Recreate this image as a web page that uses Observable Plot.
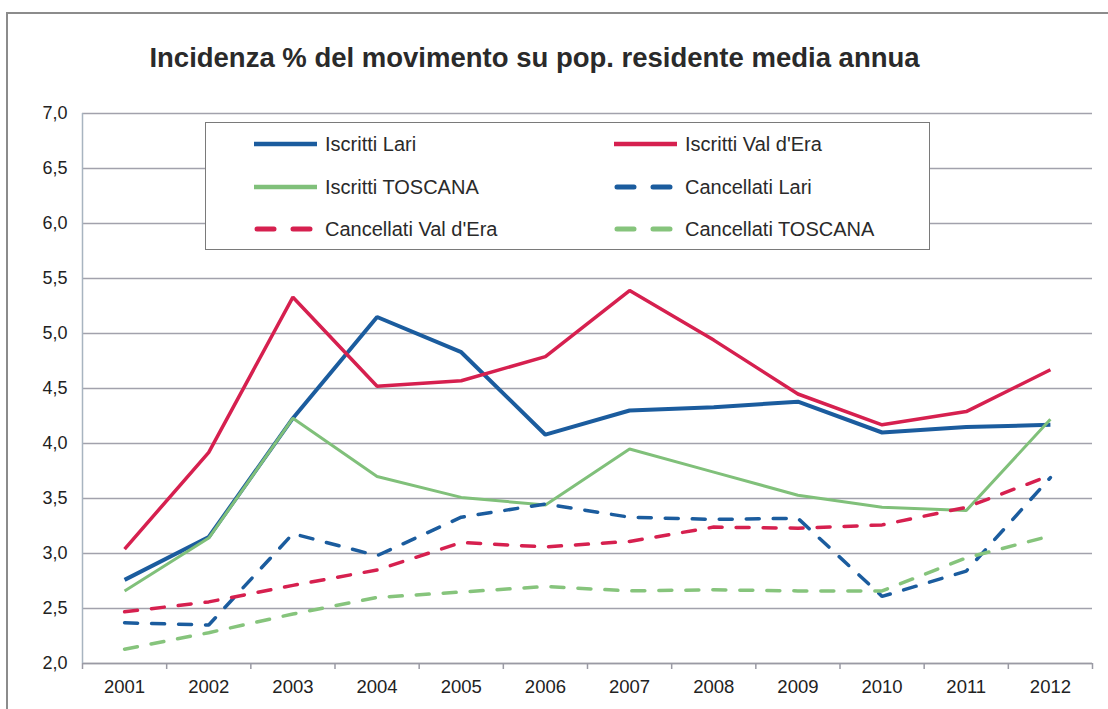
<!DOCTYPE html>
<html><head><meta charset="utf-8">
<script src="https://cdn.jsdelivr.net/npm/d3@7"></script>
<script src="https://cdn.jsdelivr.net/npm/@observablehq/plot@0.6"></script>
<style>
body{margin:0;background:#fff;font-family:"Liberation Sans",Arial,sans-serif;}
#wrap{position:relative;width:1108px;height:709px;overflow:hidden;background:#fff;}
#frame{position:absolute;left:6px;top:12px;width:1200px;height:800px;border-left:2px solid #8c8c8c;border-top:2px solid #8c8c8c;}
#title{position:relative;height:90px;box-sizing:border-box;padding-top:42px;text-align:center;width:1069px;font-weight:bold;font-size:27.5px;color:#2a2a2a;}
#chart{position:relative;}
#legend{position:absolute;left:205px;top:122px;width:725px;height:128px;border:1.5px solid #7a7a7a;background:#fff;box-sizing:border-box;}
.item{position:absolute;display:flex;align-items:center;font-size:20px;color:#2a2a2a;white-space:nowrap;}
.item svg{margin-right:8px;}
</style></head>
<body>
<div id="wrap">
<div id="frame"></div>
<div id="title">Incidenza % del movimento su pop. residente media annua</div>
<div id="chart"></div>
<div id="legend"></div>
</div>
<script>
const years = [2001,2002,2003,2004,2005,2006,2007,2008,2009,2010,2011,2012];
const yTicks = [2,2.5,3,3.5,4,4.5,5,5.5,6,6.5,7];
const iscrittiLari      = [2.76,3.15,4.23,5.15,4.83,4.08,4.30,4.33,4.38,4.10,4.15,4.17];
const iscrittiValdera   = [3.04,3.92,5.33,4.52,4.57,4.79,5.39,4.94,4.45,4.17,4.29,4.67];
const iscrittiToscana   = [2.66,3.14,4.23,3.70,3.51,3.44,3.95,3.74,3.53,3.42,3.39,4.22];
const cancellatiLari    = [2.37,2.35,3.18,2.98,3.33,3.45,3.33,3.31,3.32,2.61,2.84,3.69];
const cancellatiValdera = [2.47,2.56,2.71,2.85,3.10,3.06,3.11,3.24,3.23,3.26,3.42,3.71];
const cancellatiToscana = [2.13,2.28,2.45,2.60,2.65,2.70,2.66,2.67,2.66,2.66,2.96,3.16];
const seriesNames = ["Iscritti Lari","Iscritti Val d'Era","Iscritti TOSCANA","Cancellati Lari","Cancellati Val d'Era","Cancellati TOSCANA"];
const seriesValues = [iscrittiLari,iscrittiValdera,iscrittiToscana,cancellatiLari,cancellatiValdera,cancellatiToscana];
const seriesColors = ["#1b5c9e","#d6204f","#80c07a","#1b5c9e","#d6204f","#86c47c"];
const seriesDash = [null,null,null,"13,14","13,14","13,14"];
const seriesWidth = [4,3.5,3,3.5,3.5,3.5];

const boundaries = years.concat([years[years.length-1]+1]).map(d => d - 0.5);
const lineMarks = seriesValues.map((vals, k) =>
  Plot.line(years.map((yr,i) => ({year: yr, v: vals[i]})), {
    x: "year", y: "v", stroke: seriesColors[k], strokeWidth: seriesWidth[k],
    strokeDasharray: seriesDash[k], strokeLinecap: seriesDash[k] ? "round" : "butt", strokeLinejoin: "miter"
  })
);

const chart = Plot.plot({
  width: 1108, height: 619,
  marginTop: 23, marginBottom: 46, marginLeft: 82, marginRight: 16,
  x: {type: "linear", domain: [boundaries[0], boundaries[boundaries.length-1]], label: null},
  y: {domain: [2, 7], label: null},
  style: {fontFamily: '"Liberation Sans", Arial, sans-serif', fontSize: "18px", color: "#222", background: "transparent", overflow: "visible"},
  marks: [
    Plot.gridY(yTicks, {stroke: "#a2a2ac", strokeOpacity: 1, strokeWidth: 1.5}),
    Plot.ruleY([yTicks[0]], {stroke: "#9a9aa4", strokeWidth: 1.5}),
    Plot.ruleX([boundaries[0]], {stroke: "#a8b4c0", strokeWidth: 1.5}),
    Plot.axisY(yTicks, {tickSize: 0, tickPadding: 15, tickFormat: d => d.toFixed(1).replace(".", ","), fontSize: 18, label: null}),
    Plot.axisX(years, {tickSize: 0, tickPadding: 16, tickFormat: d => String(d), fontSize: 18.5, label: null}),
    Plot.axisX(boundaries, {tickSize: 6, tickFormat: () => "", stroke: "#9a9aa4", strokeWidth: 1.5, label: null}),
    ...lineMarks
  ]
});
document.getElementById("chart").appendChild(chart);

// legend
const legend = document.getElementById("legend");
const pos = [[47,21],[407,21],[47,64],[407,64],[47,106],[407,106]];
seriesNames.forEach((name, k) => {
  const div = document.createElement("div");
  div.className = "item";
  div.style.left = pos[k][0] + "px";
  div.style.top = (pos[k][1] - 13) + "px";
  const dash = seriesDash[k] ? 'stroke-dasharray="17,19" stroke-linecap="round"' : '';
  div.innerHTML = `<svg width="64" height="26"><line x1="${seriesDash[k]?4:1}" y1="13" x2="64" y2="13" stroke="${seriesColors[k]}" stroke-width="${seriesDash[k]?5:4.5}" ${dash}/></svg><span>${name}</span>`;
  legend.appendChild(div);
});
</script>
</body></html>
